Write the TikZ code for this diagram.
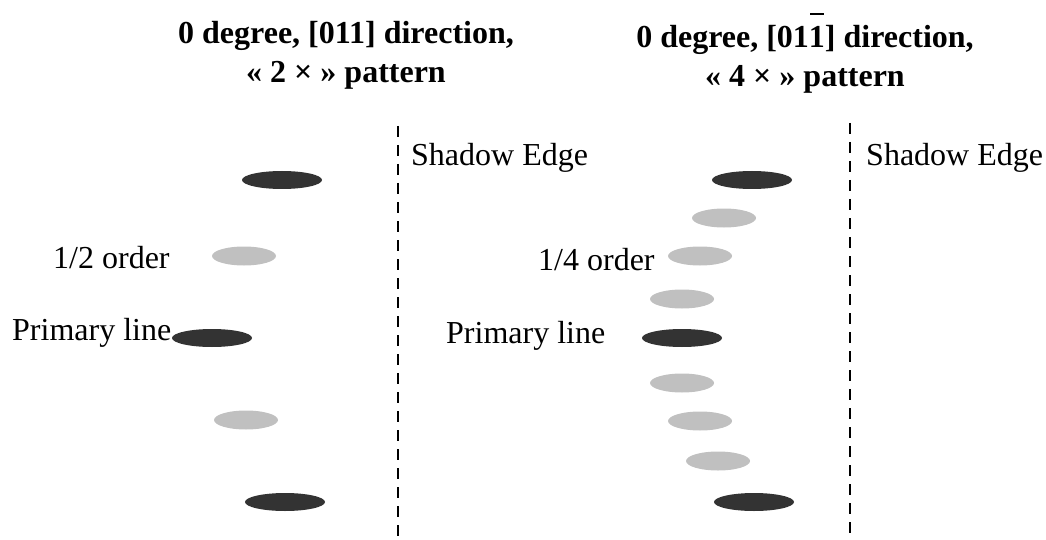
\documentclass[tikz,border=0pt]{standalone}
\usepackage{fontspec}
\setmainfont{Liberation Serif}
\usetikzlibrary{shapes.geometric}
\begin{document}
\begin{tikzpicture}[x=1pt,y=-1pt,
  darkspot/.style={ellipse,draw=none,fill=spotdark,minimum width=80pt,minimum height=18pt,inner sep=0pt},
  lightspot/.style={ellipse,draw=none,fill=spotlight,minimum width=64pt,minimum height=19pt,inner sep=0pt},
  lbl/.style={anchor=base west,inner sep=0pt,font=\fontsize{32}{38}\selectfont},
  ttl/.style={anchor=base,inner sep=0pt,font=\fontsize{32}{38}\selectfont\bfseries},
  edgeline/.style={line width=2.2pt,dash pattern=on 11pt off 8pt}]
\definecolor{spotdark}{HTML}{333333}
\definecolor{spotlight}{HTML}{C0C0C0}
\useasboundingbox (0,0) rectangle (1046,540);
% titles
\node[ttl] (t1a) at (346,44) {0 degree, [011] direction,};
\node[ttl] (t1b) at (346,83) {« 2 × » pattern};
\node[ttl] (t2a) at (805,48) {0 degree, [01\rlap{\hspace{0.04em}\rule[1.04em]{0.42em}{0.065em}}1] direction,};
\node[ttl] (t2b) at (805,87) {« 4 × » pattern};
% shadow edges
\coordinate (e1top) at (398,126);
\coordinate (e1bot) at (398,540);
\coordinate (e2top) at (850,123);
\coordinate (e2bot) at (850,540);
\draw[edgeline] (e1top) -- (e1bot);
\draw[edgeline] (e2top) -- (e2bot);
\node[lbl] (se1) at (411,166) {Shadow Edge};
\node[lbl] (se2) at (866,166) {Shadow Edge};
% left pattern
\node[darkspot] (l1) at (282,180) {};
\node[lightspot] (l2) at (244,256) {};
\node[darkspot] (l3) at (212,338) {};
\node[lightspot] (l4) at (246,420) {};
\node[darkspot] (l5) at (285,502) {};
\node[lbl] (half) at (53,268) {1/2 order};
\node[lbl] (prim1) at (12,340) {Primary line};
% right pattern
\node[darkspot] (r1) at (752,180) {};
\node[lightspot] (r2) at (724,218) {};
\node[lightspot] (r3) at (700,256) {};
\node[lightspot] (r4) at (682,299) {};
\node[darkspot] (r5) at (682,338) {};
\node[lightspot] (r6) at (682,383) {};
\node[lightspot] (r7) at (700,421) {};
\node[lightspot] (r8) at (718,461) {};
\node[darkspot] (r9) at (754,502) {};
\node[lbl] (quarter) at (538,270) {1/4 order};
\node[lbl] (prim2) at (446,343) {Primary line};
\end{tikzpicture}
\end{document}
